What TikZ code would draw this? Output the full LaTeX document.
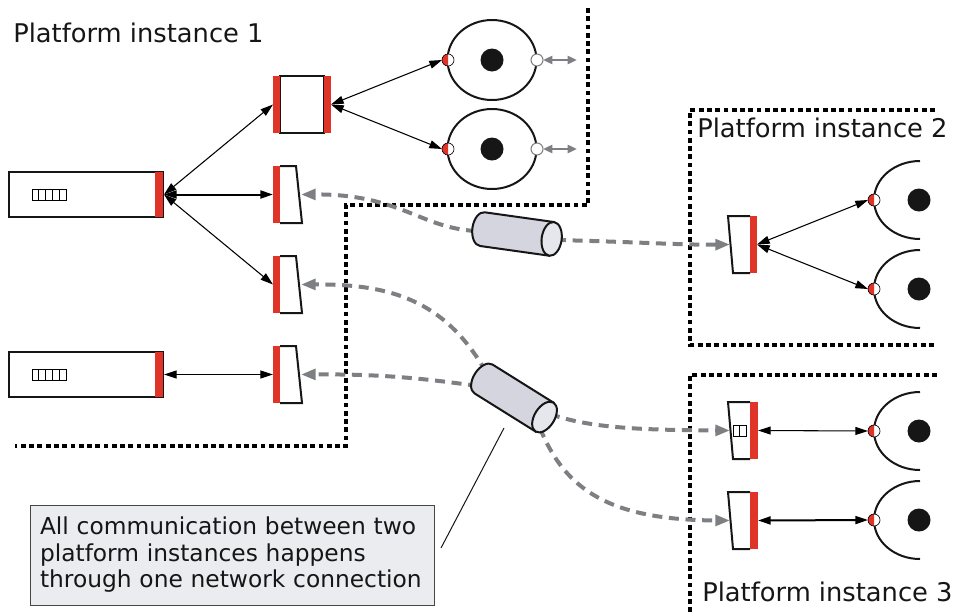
\documentclass[tikz,border=0pt]{standalone}
\usepackage{fontspec}
\setmainfont{DejaVu Sans}
\usetikzlibrary{arrows.meta}
\definecolor{portred}{RGB}{224,52,40}
\definecolor{wiregray}{RGB}{125,127,131}
\definecolor{cylbody}{RGB}{212,213,222}
\definecolor{cylend}{RGB}{230,231,236}
\definecolor{notefill}{RGB}{235,236,240}
\definecolor{notedraw}{RGB}{70,70,70}
\definecolor{ink}{RGB}{22,22,22}
\tikzset{port/.pic={
  \fill[white] (0,0) circle[radius=6];
  \fill[portred] (0,6) arc[start angle=90,end angle=270,radius=6] -- cycle;
  \draw[line width=0.5pt] (0,0) circle[radius=6];
}}
\begin{document}
\begin{tikzpicture}[x=0.75pt,y=0.75pt,yscale=-1,xscale=1,
  boundary/.style={line width=2.5pt, dash pattern={on 3.6pt off 2.6pt}},
  link/.style={line width=0.8pt, {Triangle[length=9.5pt,width=6pt]}-{Triangle[length=9.5pt,width=6pt]}},
  netlink/.style={wiregray, line width=3pt, dash pattern={on 7.5pt off 5pt}, -{Triangle[length=11pt,width=8pt]}},
  title/.style={anchor=base west, inner sep=0pt, text=ink, font=\fontsize{19.3}{23}\selectfont},
  appbox/.style={draw=ink, line width=1.5pt, minimum width=115.5pt, minimum height=33.75pt, inner sep=0pt},
  shape line/.style={draw=ink, line width=1.5pt},
  outlink/.style={wiregray, line width=2pt, {Triangle[length=7pt,width=6pt]}-{Triangle[length=7pt,width=6pt]}}]
\useasboundingbox (0,0) rectangle (967,615);

% Platform boundaries
\draw[boundary] (588,8) -- (588,205) -- (346,205) -- (346,446) -- (15,446);
\draw[boundary] (935,110) -- (690,110) -- (690,345) -- (935,345);
\draw[boundary] (937,375) -- (690,375) -- (690,615);

% Titles
\node[title] (title1) at (13,42) {Platform instance 1};
\node[title] (title2) at (697,137) {Platform instance 2};
\node[title] (title3) at (702,601) {Platform instance 3};

% Applications
\node[appbox] (app1) at (86,194.5) {};
\fill[portred] (155,172) rectangle (163,217);
\draw[line width=0.6pt] (32,189) rectangle (66,200) (38.8,189) -- (38.8,200) (45.6,189) -- (45.6,200) (52.4,189) -- (52.4,200) (59.2,189) -- (59.2,200);
\node[appbox] (app2) at (86,374.5) {};
\fill[portred] (155,352) rectangle (163,397);
\draw[line width=0.6pt] (32,369) rectangle (66,380) (38.8,369) -- (38.8,380) (45.6,369) -- (45.6,380) (52.4,369) -- (52.4,380) (59.2,369) -- (59.2,380);

% Router
\draw[shape line] (280,76) rectangle (324,133);
\fill[portred] (273,76) rectangle (280,133);
\fill[portred] (324,76) rectangle (331,133);
\coordinate (router w) at (273,104.5);
\coordinate (router e) at (331,104.5);

% Proxies, platform 1
\draw[shape line] (280,166) -- (296,166) -- (302,223) -- (280,223);
\fill[portred] (273,166) rectangle (280,223);
\coordinate (proxy1 w) at (273,194.5);
\coordinate (proxy1 e) at (301,194.5);
\draw[shape line] (280,256) -- (296,256) -- (302,313) -- (280,313);
\fill[portred] (273,256) rectangle (280,313);
\coordinate (proxy2 w) at (273,284.5);
\coordinate (proxy2 e) at (301,284.5);
\draw[shape line] (280,346) -- (296,346) -- (302,403) -- (280,403);
\fill[portred] (273,346) rectangle (280,403);
\coordinate (proxy3 w) at (273,374.5);
\coordinate (proxy3 e) at (301,374.5);

% Services, platform 1
\draw[shape line] (492,60) ellipse[x radius=44.5, y radius=40];
\fill[ink] (492,60) circle[radius=11.5];
\pic at (448,60) {port};
\draw[wiregray, fill=white, line width=0.8pt] (537,60) circle[radius=6];
\coordinate (svc1 in) at (442,60);
\coordinate (svc1 out) at (543,60);
\coordinate (svc1 ext) at (577,60);
\draw[shape line] (492,149) ellipse[x radius=44.5, y radius=40];
\fill[ink] (492,149) circle[radius=11.5];
\pic at (448,149) {port};
\draw[wiregray, fill=white, line width=0.8pt] (537,149) circle[radius=6];
\coordinate (svc2 in) at (442,149);
\coordinate (svc2 out) at (543,149);
\coordinate (svc2 ext) at (577,149);

% Proxy and services, platform 2
\draw[shape line] (750,216) -- (728,216) -- (733,273) -- (750,273);
\fill[portred] (750,216) rectangle (757,273);
\coordinate (proxy4 w) at (730,244.5);
\coordinate (proxy4 e) at (757,244.5);
\draw[shape line] (920,161) arc[start angle=-90, end angle=-270, x radius=46, y radius=39];
\fill[ink] (919,200) circle[radius=11.5];
\pic at (874,200) {port};
\coordinate (svc3 in) at (868,200);
\draw[shape line] (920,250) arc[start angle=-90, end angle=-270, x radius=46, y radius=39];
\fill[ink] (919,289) circle[radius=11.5];
\pic at (874,289) {port};
\coordinate (svc4 in) at (868,289);

% Proxies and services, platform 3
\draw[shape line] (750,402) -- (728,402) -- (733,459) -- (750,459);
\fill[portred] (750,402) rectangle (758,459);
\draw[line width=0.6pt] (733,425) rectangle (746,436) (739.5,425) -- (739.5,436);
\coordinate (proxy5 w) at (730,430.5);
\coordinate (proxy5 e) at (758,430.5);
\draw[shape line] (750,492) -- (728,492) -- (733,549) -- (750,549);
\fill[portred] (750,492) rectangle (758,549);
\coordinate (proxy6 w) at (730,520.5);
\coordinate (proxy6 e) at (758,520.5);
\draw[shape line] (920,392) arc[start angle=-90, end angle=-270, x radius=46, y radius=39];
\fill[ink] (919,431) circle[radius=11.5];
\pic at (874,431) {port};
\coordinate (svc5 in) at (868,431);
\draw[shape line] (920,481) arc[start angle=-90, end angle=-270, x radius=46, y radius=39];
\fill[ink] (919,520) circle[radius=11.5];
\pic at (874,520) {port};
\coordinate (svc6 in) at (868,520);

% Local links
\draw[link] (app1.east) -- (router w);
\draw[link, line width=1.5pt] (app1.east) -- (proxy1 w);
\draw[link] (app1.east) -- (proxy2 w);
\draw[link] (app2.east) -- (proxy3 w);
\draw[link] (router e) -- (svc1 in);
\draw[link] (router e) -- (svc2 in);
\draw[link] (proxy4 e) -- (svc3 in);
\draw[link] (proxy4 e) -- (svc4 in);
\draw[link] (proxy5 e) -- (svc5 in);
\draw[link, line width=1.5pt] (proxy6 e) -- (svc6 in);
\draw[outlink] (svc1 out) -- (svc1 ext);
\draw[outlink] (svc2 out) -- (svc2 ext);

% Network links
\coordinate (cyl1 w) at (476,231);
\coordinate (cyl1 e) at (556,240);
\coordinate (cyl2 nw) at (486,372);
\coordinate (cyl2 w) at (478,386);
\coordinate (cyl2 e) at (550,414);
\coordinate (cyl2 s) at (540,428);
\draw[netlink] (cyl1 w) .. controls (420,228) and (400,194) .. (proxy1 e);
\draw[netlink] (cyl1 e) .. controls (640,242) and (680,245) .. (proxy4 w);
\draw[netlink] (cyl2 nw) .. controls (445,300) and (390,284) .. (proxy2 e);
\draw[netlink] (cyl2 w) .. controls (420,378) and (380,374) .. (proxy3 e);
\draw[netlink] (cyl2 e) .. controls (590,428) and (640,430) .. (proxy5 w);
\draw[netlink] (cyl2 s) .. controls (565,490) and (610,520) .. (proxy6 w);

% Connections
\begin{scope}[shift={(517,234)}, rotate=8]
\draw[shape line, fill=cylbody] (35,-17) -- (-35,-17) arc[start angle=-90, end angle=-270, x radius=10, y radius=17] -- (35,17) -- cycle;
\draw[shape line, fill=cylend] (35,0) ellipse[x radius=10, y radius=17];
\end{scope}
\begin{scope}[shift={(514,398)}, rotate=32]
\draw[shape line, fill=cylbody] (36,-17) -- (-36,-17) arc[start angle=-90, end angle=-270, x radius=10, y radius=17] -- (36,17) -- cycle;
\draw[shape line, fill=cylend] (36,0) ellipse[x radius=10, y radius=17];
\end{scope}

% Note
\node[draw=notedraw, fill=notefill, line width=0.75pt, minimum width=303pt, minimum height=75pt, text width=288pt, inner xsep=7.5pt, align=left, text=ink, font=\fontsize{17.5}{19.9}\selectfont] (note) at (232,555) {All communication between two\\platform instances happens\\through one network connection};
\coordinate (note hook) at (441,548);
\coordinate (cyl2 mark) at (504,428);
\draw[ink, line width=0.75pt] (note hook) -- (cyl2 mark);
\end{tikzpicture}
\end{document}
